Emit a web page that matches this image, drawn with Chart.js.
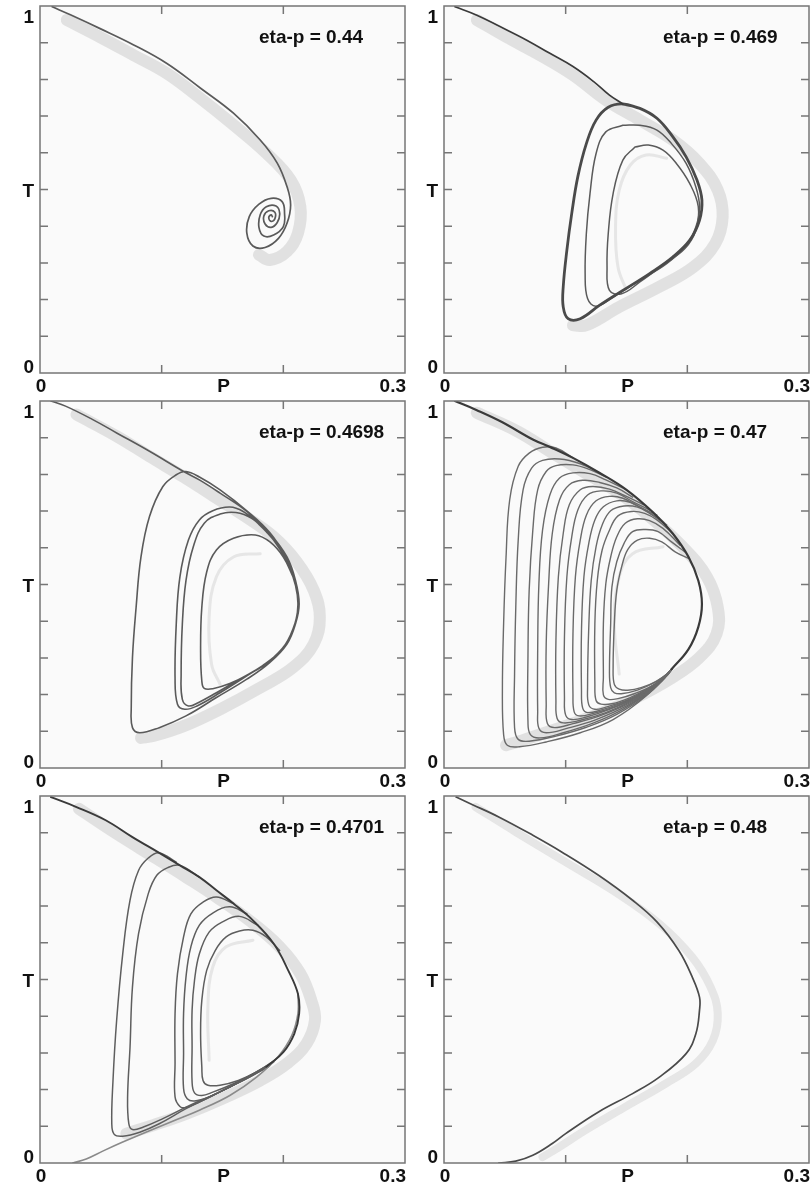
<!DOCTYPE html>
<html>
<head>
<meta charset="utf-8">
<script src="https://cdn.jsdelivr.net/npm/chart.js@4.4.0/dist/chart.umd.min.js"></script>
<style>
  body { margin: 0; background: #fff; }
  #wrap { position: relative; width: 812px; height: 1188px; }
  canvas { position: absolute; }
</style>
</head>
<body>
<div id="wrap">
  <canvas id="c1" width="406" height="396" style="left:0;top:0"></canvas>
  <canvas id="c2" width="408" height="396" style="left:404px;top:0"></canvas>
  <canvas id="c3" width="406" height="396" style="left:0;top:395px"></canvas>
  <canvas id="c4" width="408" height="396" style="left:404px;top:395px"></canvas>
  <canvas id="c5" width="406" height="396" style="left:0;top:790px"></canvas>
  <canvas id="c6" width="408" height="396" style="left:404px;top:790px"></canvas>
</div>
<script>
// axis setup shared by all six panels
const xTickValues = [0.1, 0.2];
const yTickValues = [0.1, 0.2, 0.3, 0.4, 0.5, 0.6, 0.7, 0.8, 0.9];
const xLabelValues = [0, 0.15, 0.3];
const xLabelTexts = ["0", "P", "0.3"];
const yLabelValues = [1, 0.5, 0];
const yLabelTexts = ["1", "T", "0"];
const etaLabels = ["eta-p = 0.44", "eta-p = 0.469", "eta-p = 0.4698", "eta-p = 0.47", "eta-p = 0.4701", "eta-p = 0.48"];

// [P, T] points

// eta-p = 0.44
const p1Path = [[0.010,0.998],[0.025,0.976],[0.049,0.939],[0.077,0.894],[0.104,0.844],[0.132,0.776],[0.159,0.708],[0.181,0.635],[0.195,0.572],[0.203,0.508],[0.206,0.458],[0.203,0.408],[0.196,0.367],[0.185,0.342],[0.175,0.346],[0.170,0.381],[0.172,0.426],[0.180,0.460],[0.190,0.476],[0.199,0.467],[0.201,0.435],[0.200,0.399],[0.192,0.376],[0.184,0.373],[0.180,0.396],[0.181,0.431],[0.186,0.453],[0.194,0.455],[0.197,0.435],[0.195,0.410],[0.190,0.397],[0.185,0.406],[0.184,0.428],[0.188,0.442],[0.193,0.438],[0.193,0.420],[0.190,0.413],[0.188,0.423],[0.190,0.431],[0.191,0.426]];
const p1Band = [[0.022,0.962],[0.049,0.916],[0.077,0.866],[0.104,0.817],[0.132,0.748],[0.159,0.676],[0.186,0.599],[0.206,0.526],[0.214,0.453],[0.212,0.381],[0.203,0.331],[0.189,0.308],[0.180,0.322]];

// eta-p = 0.469
const p2Arm = [[0.009,0.998],[0.027,0.975],[0.046,0.944],[0.068,0.907],[0.087,0.871],[0.106,0.835],[0.123,0.794],[0.136,0.757],[0.147,0.733]];
const p2Outer = [[0.147,0.733],[0.161,0.721],[0.175,0.694],[0.188,0.644],[0.199,0.589],[0.208,0.525],[0.212,0.471],[0.210,0.416],[0.202,0.362],[0.188,0.316],[0.169,0.271],[0.147,0.225],[0.128,0.185],[0.112,0.148],[0.102,0.148],[0.098,0.180],[0.098,0.235],[0.101,0.335],[0.105,0.435],[0.110,0.535],[0.117,0.625],[0.125,0.689],[0.135,0.724],[0.147,0.733],[0.161,0.721]];
const p2Loop2 = [[0.147,0.675],[0.161,0.675],[0.175,0.662],[0.187,0.625],[0.199,0.571],[0.207,0.507],[0.210,0.453],[0.207,0.398],[0.199,0.348],[0.183,0.298],[0.161,0.253],[0.139,0.207],[0.125,0.182],[0.118,0.203],[0.116,0.271],[0.117,0.380],[0.120,0.489],[0.125,0.598],[0.133,0.657],[0.147,0.675]];
const p2Loop3 = [[0.157,0.616],[0.168,0.621],[0.180,0.607],[0.191,0.571],[0.202,0.516],[0.209,0.453],[0.207,0.389],[0.198,0.339],[0.180,0.294],[0.161,0.248],[0.146,0.216],[0.136,0.225],[0.134,0.289],[0.135,0.380],[0.139,0.489],[0.147,0.580],[0.157,0.616]];
const p2Band = [[0.027,0.962],[0.051,0.916],[0.079,0.866],[0.106,0.812],[0.133,0.744],[0.161,0.689],[0.188,0.635],[0.210,0.571],[0.225,0.498],[0.229,0.425],[0.223,0.353],[0.205,0.289],[0.177,0.235],[0.144,0.180],[0.117,0.130],[0.106,0.130]];
const p2Inner = [[0.183,0.585],[0.166,0.594],[0.153,0.566],[0.144,0.498],[0.141,0.398],[0.143,0.289],[0.150,0.225]];

// eta-p = 0.4698
const p3Path = [[0.009,1.000],[0.021,0.986],[0.043,0.950],[0.063,0.913],[0.090,0.863],[0.118,0.808],[0.131,0.785],[0.148,0.749],[0.170,0.699],[0.189,0.639],[0.203,0.575],[0.210,0.511],[0.213,0.447],[0.210,0.393],[0.203,0.338],[0.189,0.288],
  [0.170,0.242],[0.145,0.192],[0.120,0.142],[0.098,0.110],[0.082,0.096],[0.076,0.110],[0.075,0.164],[0.076,0.301],[0.079,0.438],[0.083,0.575],[0.090,0.685],[0.101,0.767],[0.112,0.799],[0.120,0.808],[0.131,0.793],[0.148,0.758],[0.170,0.701],[0.189,0.641],[0.202,0.575],[0.210,0.511],[0.212,0.447],[0.210,0.393],[0.202,0.338],[0.188,0.290],
  [0.170,0.251],[0.148,0.205],[0.129,0.169],[0.119,0.160],[0.113,0.174],[0.111,0.247],[0.112,0.393],[0.115,0.521],[0.122,0.621],[0.131,0.676],[0.142,0.701],[0.156,0.711],[0.167,0.699],[0.179,0.667],[0.192,0.621],[0.203,0.562],[0.210,0.498],[0.212,0.438],[0.208,0.379],[0.199,0.324],[0.183,0.279],
  [0.164,0.242],[0.145,0.205],[0.130,0.178],[0.122,0.169],[0.117,0.187],[0.116,0.256],[0.117,0.393],[0.120,0.511],[0.126,0.603],[0.135,0.667],[0.148,0.692],[0.161,0.696],[0.174,0.680],[0.186,0.644],[0.199,0.589],[0.208,0.521],[0.212,0.457],[0.210,0.397],[0.203,0.342],[0.189,0.292],
  [0.172,0.256],[0.156,0.230],[0.142,0.216],[0.135,0.217],[0.133,0.237],[0.132,0.320],[0.133,0.438],[0.137,0.534],[0.145,0.594],[0.159,0.626],[0.177,0.635],[0.189,0.616],[0.200,0.575],[0.208,0.521]];
const p3Band = [[0.030,0.963],[0.063,0.904],[0.090,0.849],[0.118,0.793],[0.142,0.742],[0.167,0.689],[0.192,0.630],[0.211,0.562],[0.225,0.484],[0.230,0.411],[0.225,0.338],[0.208,0.274],[0.181,0.219],[0.148,0.160],[0.118,0.114],[0.093,0.087],[0.083,0.082]];
const p3Inner = [[0.181,0.584],[0.159,0.575],[0.145,0.521],[0.139,0.411],[0.141,0.283],[0.148,0.228]];

// eta-p = 0.47
const p4Arm = [[0.009,1.000],[0.027,0.975],[0.048,0.942],[0.073,0.895],[0.087,0.875],[0.106,0.845],[0.128,0.804],[0.150,0.758],[0.172,0.696],[0.188,0.639],[0.201,0.575],[0.209,0.511],[0.212,0.447],[0.209,0.384],[0.201,0.324],[0.187,0.269]];
const p4Loops = [
  [[0.187,0.269],[0.166,0.196],[0.139,0.132],[0.112,0.096],[0.084,0.071],[0.062,0.058],[0.052,0.062],[0.049,0.091],[0.048,0.210],[0.049,0.393],[0.051,0.575],[0.054,0.731],[0.061,0.822],[0.070,0.858],[0.081,0.874],[0.092,0.872],[0.106,0.845]],
  [[0.187,0.269],[0.169,0.205],[0.142,0.146],[0.117,0.111],[0.092,0.087],[0.070,0.073],[0.061,0.078],[0.058,0.110],[0.058,0.256],[0.059,0.438],[0.061,0.621],[0.065,0.758],[0.072,0.817],[0.081,0.838],[0.095,0.842],[0.112,0.829],[0.128,0.804]],
  [[0.187,0.269],[0.172,0.215],[0.147,0.160],[0.123,0.123],[0.098,0.096],[0.079,0.082],[0.071,0.091],[0.069,0.128],[0.069,0.301],[0.070,0.484],[0.073,0.648],[0.077,0.758],[0.084,0.808],[0.092,0.824],[0.106,0.826],[0.120,0.813],[0.133,0.793]],
  [[0.187,0.269],[0.173,0.219],[0.150,0.169],[0.125,0.132],[0.101,0.108],[0.084,0.096],[0.078,0.108],[0.077,0.155],[0.077,0.320],[0.078,0.502],[0.081,0.648],[0.087,0.744],[0.095,0.790],[0.106,0.804],[0.120,0.802],[0.133,0.785],[0.150,0.758]],
  [[0.187,0.269],[0.175,0.224],[0.153,0.178],[0.128,0.142],[0.106,0.121],[0.091,0.110],[0.085,0.121],[0.084,0.174],[0.084,0.338],[0.086,0.502],[0.089,0.639],[0.095,0.731],[0.103,0.772],[0.114,0.784],[0.128,0.778],[0.142,0.763],[0.155,0.738]],
  [[0.187,0.269],[0.176,0.228],[0.155,0.184],[0.133,0.151],[0.112,0.130],[0.098,0.123],[0.093,0.135],[0.092,0.183],[0.092,0.347],[0.094,0.521],[0.098,0.639],[0.103,0.717],[0.112,0.758],[0.122,0.767],[0.136,0.760],[0.150,0.740],[0.164,0.717]],
  [[0.187,0.269],[0.177,0.233],[0.158,0.192],[0.136,0.160],[0.117,0.139],[0.105,0.132],[0.100,0.144],[0.099,0.192],[0.099,0.356],[0.101,0.521],[0.105,0.630],[0.110,0.703],[0.118,0.744],[0.129,0.755],[0.142,0.749],[0.155,0.726],[0.169,0.703]],
  [[0.187,0.269],[0.179,0.237],[0.161,0.199],[0.142,0.169],[0.122,0.148],[0.111,0.142],[0.107,0.153],[0.106,0.201],[0.106,0.365],[0.108,0.521],[0.112,0.621],[0.117,0.689],[0.125,0.728],[0.136,0.740],[0.147,0.735],[0.159,0.714],[0.175,0.689]],
  [[0.187,0.269],[0.180,0.242],[0.164,0.205],[0.144,0.175],[0.128,0.157],[0.118,0.151],[0.114,0.163],[0.113,0.210],[0.113,0.374],[0.115,0.521],[0.119,0.612],[0.124,0.676],[0.131,0.712],[0.142,0.728],[0.153,0.724],[0.164,0.705],[0.177,0.680]],
  [[0.187,0.269],[0.181,0.247],[0.166,0.212],[0.150,0.184],[0.133,0.166],[0.124,0.160],[0.119,0.172],[0.118,0.219],[0.119,0.384],[0.121,0.511],[0.125,0.603],[0.130,0.662],[0.137,0.701],[0.148,0.714],[0.159,0.711],[0.169,0.694],[0.183,0.662]],
  [[0.187,0.269],[0.183,0.251],[0.169,0.219],[0.153,0.192],[0.138,0.175],[0.129,0.174],[0.125,0.184],[0.124,0.228],[0.124,0.393],[0.126,0.511],[0.130,0.594],[0.136,0.648],[0.143,0.687],[0.154,0.699],[0.165,0.694],[0.175,0.676],[0.188,0.639]],
  [[0.187,0.269],[0.184,0.256],[0.172,0.226],[0.157,0.203],[0.143,0.189],[0.135,0.187],[0.131,0.199],[0.131,0.247],[0.131,0.393],[0.133,0.502],[0.137,0.575],[0.142,0.630],[0.149,0.667],[0.159,0.679],[0.169,0.674],[0.180,0.653],[0.194,0.607]],
  [[0.187,0.269],[0.185,0.260],[0.173,0.233],[0.159,0.212],[0.147,0.203],[0.140,0.205],[0.137,0.219],[0.136,0.265],[0.137,0.393],[0.138,0.493],[0.142,0.562],[0.148,0.612],[0.155,0.644],[0.166,0.650],[0.176,0.644],[0.187,0.616],[0.198,0.589]],
  [[0.187,0.269],[0.186,0.263],[0.175,0.237],[0.162,0.219],[0.151,0.212],[0.144,0.215],[0.140,0.228],[0.139,0.274],[0.140,0.393],[0.142,0.484],[0.146,0.548],[0.151,0.595],[0.159,0.621],[0.169,0.626],[0.179,0.616],[0.190,0.589],[0.201,0.571]]
];
const p4Band = [[0.027,0.968],[0.060,0.918],[0.087,0.863],[0.114,0.808],[0.142,0.753],[0.169,0.685],[0.196,0.603],[0.216,0.521],[0.225,0.438],[0.224,0.365],[0.210,0.301],[0.188,0.247],[0.155,0.187],[0.123,0.142],[0.087,0.100],[0.062,0.073],[0.051,0.062]];
const p4Inner = [[0.180,0.603],[0.155,0.584],[0.144,0.521],[0.140,0.393],[0.144,0.256]];

// eta-p = 0.4701
const p5Arm = [[0.009,0.997],[0.030,0.970],[0.054,0.934],[0.076,0.888],[0.098,0.845],[0.115,0.811],[0.131,0.779],[0.145,0.743],[0.159,0.707],[0.175,0.661],[0.192,0.598],[0.204,0.525],[0.212,0.461],[0.213,0.407],[0.209,0.352],[0.200,0.302],[0.186,0.262]];
const p5Rise = [[0.027,0.000],[0.038,0.011],[0.052,0.033],[0.068,0.057],[0.087,0.084],[0.109,0.114],[0.131,0.144],[0.156,0.184],[0.178,0.234],[0.196,0.291],[0.207,0.348],[0.212,0.407],[0.212,0.461]];
const p5Loops = [
  [[0.186,0.262],[0.164,0.221],[0.142,0.184],[0.120,0.148],[0.098,0.107],[0.082,0.084],[0.068,0.073],[0.061,0.078],[0.059,0.107],[0.060,0.225],[0.063,0.389],[0.068,0.570],[0.074,0.716],[0.081,0.797],[0.089,0.831],[0.098,0.845],[0.112,0.820]],
  [[0.188,0.263],[0.167,0.225],[0.145,0.189],[0.123,0.157],[0.101,0.121],[0.085,0.098],[0.076,0.091],[0.073,0.107],[0.072,0.180],[0.074,0.316],[0.076,0.480],[0.081,0.625],[0.089,0.734],[0.096,0.784],[0.105,0.805],[0.115,0.811],[0.131,0.779]],
  [[0.189,0.266],[0.170,0.230],[0.150,0.198],[0.131,0.166],[0.120,0.151],[0.115,0.154],[0.111,0.180],[0.111,0.271],[0.111,0.407],[0.113,0.516],[0.118,0.616],[0.124,0.679],[0.134,0.711],[0.145,0.725],[0.159,0.707]],
  [[0.190,0.271],[0.172,0.236],[0.156,0.207],[0.139,0.180],[0.127,0.169],[0.121,0.175],[0.118,0.203],[0.118,0.298],[0.118,0.407],[0.120,0.507],[0.124,0.589],[0.131,0.648],[0.142,0.681],[0.156,0.698],[0.170,0.679]],
  [[0.192,0.275],[0.175,0.243],[0.159,0.216],[0.142,0.193],[0.133,0.184],[0.127,0.191],[0.125,0.221],[0.125,0.316],[0.125,0.416],[0.127,0.498],[0.131,0.570],[0.139,0.629],[0.150,0.657],[0.164,0.672],[0.179,0.648]],
  [[0.193,0.280],[0.178,0.248],[0.163,0.225],[0.148,0.212],[0.138,0.212],[0.134,0.225],[0.133,0.262],[0.132,0.352],[0.133,0.443],[0.137,0.525],[0.144,0.579],[0.153,0.616],[0.164,0.632],[0.175,0.634],[0.186,0.616],[0.197,0.579]]
];
const p5Band = [[0.032,0.965],[0.063,0.897],[0.096,0.829],[0.120,0.779],[0.145,0.725],[0.172,0.661],[0.197,0.589],[0.214,0.516],[0.223,0.443],[0.226,0.389],[0.219,0.325],[0.203,0.271],[0.181,0.225],[0.153,0.180],[0.120,0.134],[0.093,0.103],[0.071,0.080]];
const p5Inner = [[0.175,0.607],[0.153,0.589],[0.142,0.534],[0.138,0.425],[0.139,0.280]];

// eta-p = 0.48
const p6Path = [[0.010,0.997],[0.023,0.977],[0.045,0.943],[0.073,0.893],[0.097,0.847],[0.127,0.784],[0.155,0.716],[0.175,0.657],[0.193,0.579],[0.204,0.507],[0.210,0.452],[0.210,0.416],[0.207,0.352],[0.199,0.298],[0.177,0.234],[0.155,0.189],[0.127,0.139],[0.100,0.080],[0.089,0.053],[0.073,0.021],[0.059,0.005],[0.045,0.000]];
const p6Band = [[0.026,0.970],[0.059,0.902],[0.100,0.820],[0.141,0.738],[0.177,0.652],[0.204,0.561],[0.219,0.480],[0.225,0.407],[0.221,0.334],[0.207,0.271],[0.182,0.216],[0.149,0.153],[0.116,0.089],[0.095,0.044],[0.081,0.016]];

// styles
const LINE = "#5a5a5a";
const DARK = "#3a3a3a";
const BAND = "rgba(195, 195, 195, 0.45)";
const INNER = "rgba(200, 200, 200, 0.4)";

function curve(points, color, width, order) {
  return {
    data: points.map(p => ({ x: p[0], y: p[1] })),
    showLine: true,
    borderColor: color,
    borderWidth: width,
    pointRadius: 0,
    tension: 0.4,
    fill: false,
    borderCapStyle: "round",
    borderJoinStyle: "round",
    order: order,
  };
}

// frame, inward ticks and the text of each panel
const framePlugin = {
  id: "frame",
  beforeDatasetsDraw(chart) {
    const { ctx, chartArea: a } = chart;
    ctx.save();
    ctx.fillStyle = "#fafafa";
    ctx.fillRect(a.left, a.top, a.right - a.left, a.bottom - a.top);
    ctx.restore();
  },
  afterDatasetsDraw(chart, args, opts) {
    const { ctx, chartArea: a } = chart;
    const x = chart.scales.x;
    const y = chart.scales.y;
    ctx.save();
    ctx.strokeStyle = "#767676";
    ctx.lineWidth = 1.5;
    ctx.strokeRect(a.left, a.top, a.right - a.left, a.bottom - a.top);
    ctx.beginPath();
    xTickValues.forEach(v => {
      const px = x.getPixelForValue(v);
      ctx.moveTo(px, a.bottom); ctx.lineTo(px, a.bottom - 8);
      ctx.moveTo(px, a.top); ctx.lineTo(px, a.top + 8);
    });
    yTickValues.forEach(v => {
      const py = y.getPixelForValue(v);
      ctx.moveTo(a.left, py); ctx.lineTo(a.left + 8, py);
      ctx.moveTo(a.right, py); ctx.lineTo(a.right - 8, py);
    });
    ctx.stroke();

    ctx.fillStyle = "#111";
    ctx.font = 'bold 19px "Liberation Sans", Arial, sans-serif';
    ctx.textBaseline = "alphabetic";
    ctx.textAlign = "left";
    xLabelValues.forEach((v, i) => {
      const w = ctx.measureText(xLabelTexts[i]).width;
      const px = Math.min(x.getPixelForValue(v) + 1 - w / 2, a.right + 1 - w);
      ctx.fillText(xLabelTexts[i], px, a.bottom + 19);
    });
    ctx.textAlign = "right";
    yLabelValues.forEach((v, i) => {
      const py = Math.min(Math.max(y.getPixelForValue(v) + 7, a.top + 17), a.bottom);
      ctx.fillText(yLabelTexts[i], a.left - 6, py);
    });
    ctx.textAlign = "left";
    ctx.fillText(opts.label, x.getPixelForValue(0.18), y.getPixelForValue(0.9));
    ctx.restore();
  },
};

const panels = [
  { id: "c1", label: etaLabels[0], right: 1,
    datasets: [curve(p1Band, BAND, 12, 3), curve(p1Path, LINE, 1.7, 1)] },
  { id: "c2", label: etaLabels[1], right: 3,
    datasets: [curve(p2Band, BAND, 12, 3), curve(p2Inner, INNER, 3, 2),
      curve(p2Arm, DARK, 1.7, 1), curve(p2Outer, "#4a4a4a", 2.8, 1),
      curve(p2Loop2, LINE, 1.5, 1), curve(p2Loop3, LINE, 1.5, 1)] },
  { id: "c3", label: etaLabels[2], right: 1,
    datasets: [curve(p3Band, BAND, 12, 3), curve(p3Inner, INNER, 3, 2), curve(p3Path, LINE, 1.6, 1)] },
  { id: "c4", label: etaLabels[3], right: 3,
    datasets: [curve(p4Band, BAND, 12, 3), curve(p4Inner, INNER, 3, 2), curve(p4Arm, DARK, 2.2, 0)]
      .concat(p4Loops.map(l => curve(l, "#6a6a6a", 1.4, 1))) },
  { id: "c5", label: etaLabels[4], right: 1,
    datasets: [curve(p5Band, BAND, 12, 3), curve(p5Inner, INNER, 3, 2), curve(p5Arm, DARK, 1.9, 0), curve(p5Rise, "#8a8a8a", 1.6, 1)]
      .concat(p5Loops.map(l => curve(l, "#5e5e5e", 1.5, 1))) },
  { id: "c6", label: etaLabels[5], right: 3,
    datasets: [curve(p6Band, "rgba(210, 210, 210, 0.5)", 8, 3), curve(p6Path, "#4a4a4a", 1.7, 1)] },
];

panels.forEach(p => {
  new Chart(document.getElementById(p.id), {
    type: "scatter",
    data: { datasets: p.datasets },
    options: {
      responsive: false,
      animation: false,
      devicePixelRatio: 1,
      events: [],
      layout: { padding: { left: 40, top: 6, right: p.right, bottom: 23 } },
      scales: {
        x: { type: "linear", min: 0, max: 0.3, display: false },
        y: { type: "linear", min: 0, max: 1, display: false },
      },
      plugins: {
        legend: { display: false },
        tooltip: { enabled: false },
        frame: { label: p.label },
      },
    },
    plugins: [framePlugin],
  });
});
</script>
</body>
</html>
